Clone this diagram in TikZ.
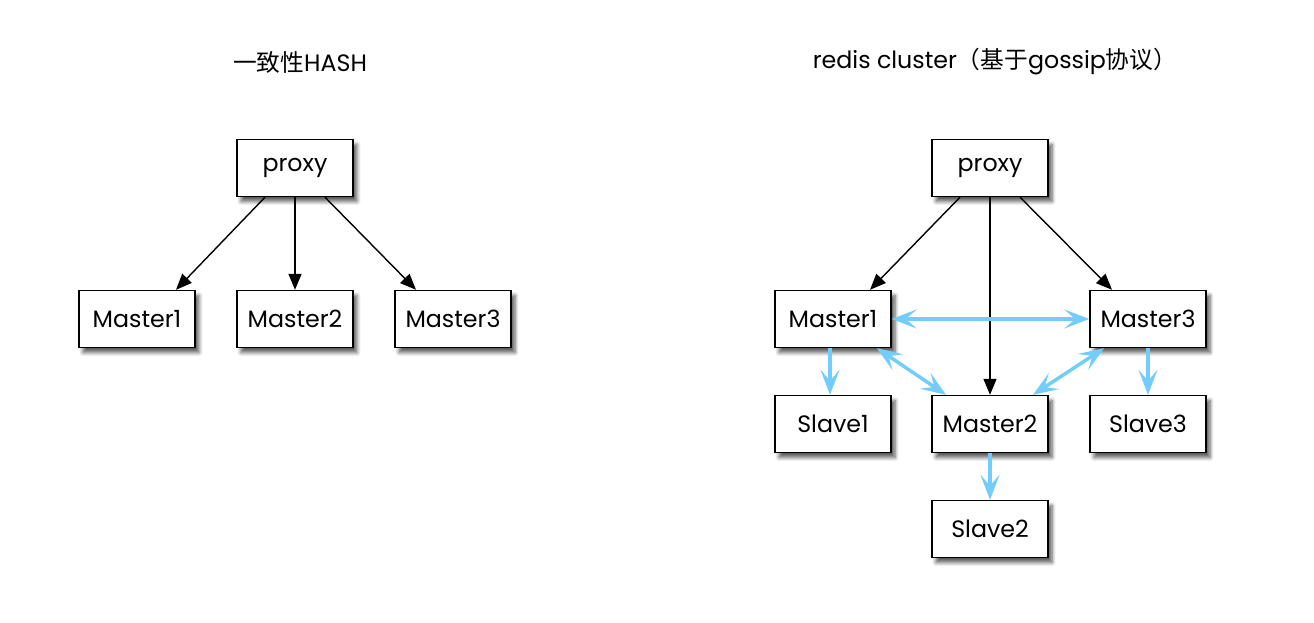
\documentclass[tikz,border=0pt]{standalone}
\usepackage{fontspec}
\setmainfont{Poppins}
\newfontfamily\cjk{Noto Sans CJK SC}
\usetikzlibrary{arrows.meta, positioning, calc, shadows.blur}

\definecolor{linkblue}{RGB}{115,205,250}

\tikzset{
    boxnode/.style={draw, thick, fill=white, minimum width=2.32cm, minimum height=1.14cm,
        inner sep=0pt, font=\fontsize{13.5}{15}\selectfont,
        blur shadow={shadow xshift=0.08cm, shadow yshift=-0.1cm, shadow blur steps=6, shadow opacity=65}},
    blackline/.style={thick, -{Triangle[length=0.32cm, width=0.26cm]}},
    blueline/.style={linkblue, line width=0.07cm, -{Stealth[length=0.5cm, width=0.38cm, inset=0.22cm]}},
    bothline/.style={linkblue, line width=0.07cm, {Stealth[length=0.5cm, width=0.38cm, inset=0.22cm]}-{Stealth[length=0.5cm, width=0.38cm, inset=0.22cm]}},
    titlenode/.style={font=\fontsize{13.5}{15}\selectfont}
}

\begin{document}
\begin{tikzpicture}[x=0.02cm, y=-0.02cm]
            \useasboundingbox (0,0) rectangle (1314,622);

            % consistent hashing
            \node[titlenode] (Atitle) at (300,62) {{\cjk 一致性}HASH};
            \node[boxnode] (Aproxy) at (295,168) {proxy};
            \foreach \x in {1,2,3}
            {
                \node[boxnode] (A\x) at (137+158*\x-158,319) {Master\x};
            }
            \draw[blackline] ([xshift=-0.6cm]Aproxy.south) -- ([xshift=0.78cm]A1.north);
            \draw[blackline] (Aproxy.south) -- (A2.north);
            \draw[blackline] ([xshift=0.6cm]Aproxy.south) -- ([xshift=-0.74cm]A3.north);

            % redis cluster
            \node[titlenode] (Btitle) at (995,62) {redis cluster{\cjk （基于}gossip{\cjk 协议）}};
            \node[boxnode] (Bproxy) at (990,168) {proxy};
            \node[boxnode] (B1) at (833,319) {Master1};
            \node[boxnode] (B3) at (1148,319) {Master3};
            \node[boxnode] (B2) at (990,424) {Master2};
            \node[boxnode] (S1) at (833,424) {Slave1};
            \node[boxnode] (S3) at (1148,424) {Slave3};
            \node[boxnode] (S2) at (990,529) {Slave2};

            \draw[blackline] ([xshift=-0.6cm]Bproxy.south) -- ([xshift=0.74cm]B1.north);
            \draw[blackline] (Bproxy.south) -- (B2.north);
            \draw[blackline] ([xshift=0.6cm]Bproxy.south) -- ([xshift=-0.72cm]B3.north);

            \draw[bothline] (B1.east) -- (B3.west);
            \draw[bothline] ([xshift=0.88cm]B1.south) -- ([xshift=-0.88cm]B2.north);
            \draw[bothline] ([xshift=-0.88cm]B3.south) -- ([xshift=0.86cm]B2.north);
            \draw[blueline] ([xshift=-0.06cm]B1.south) -- ([xshift=-0.06cm]S1.north);
            \draw[blueline] (B3.south) -- (S3.north);
            \draw[blueline] (B2.south) -- (S2.north);

        \end{tikzpicture}
\end{document}
